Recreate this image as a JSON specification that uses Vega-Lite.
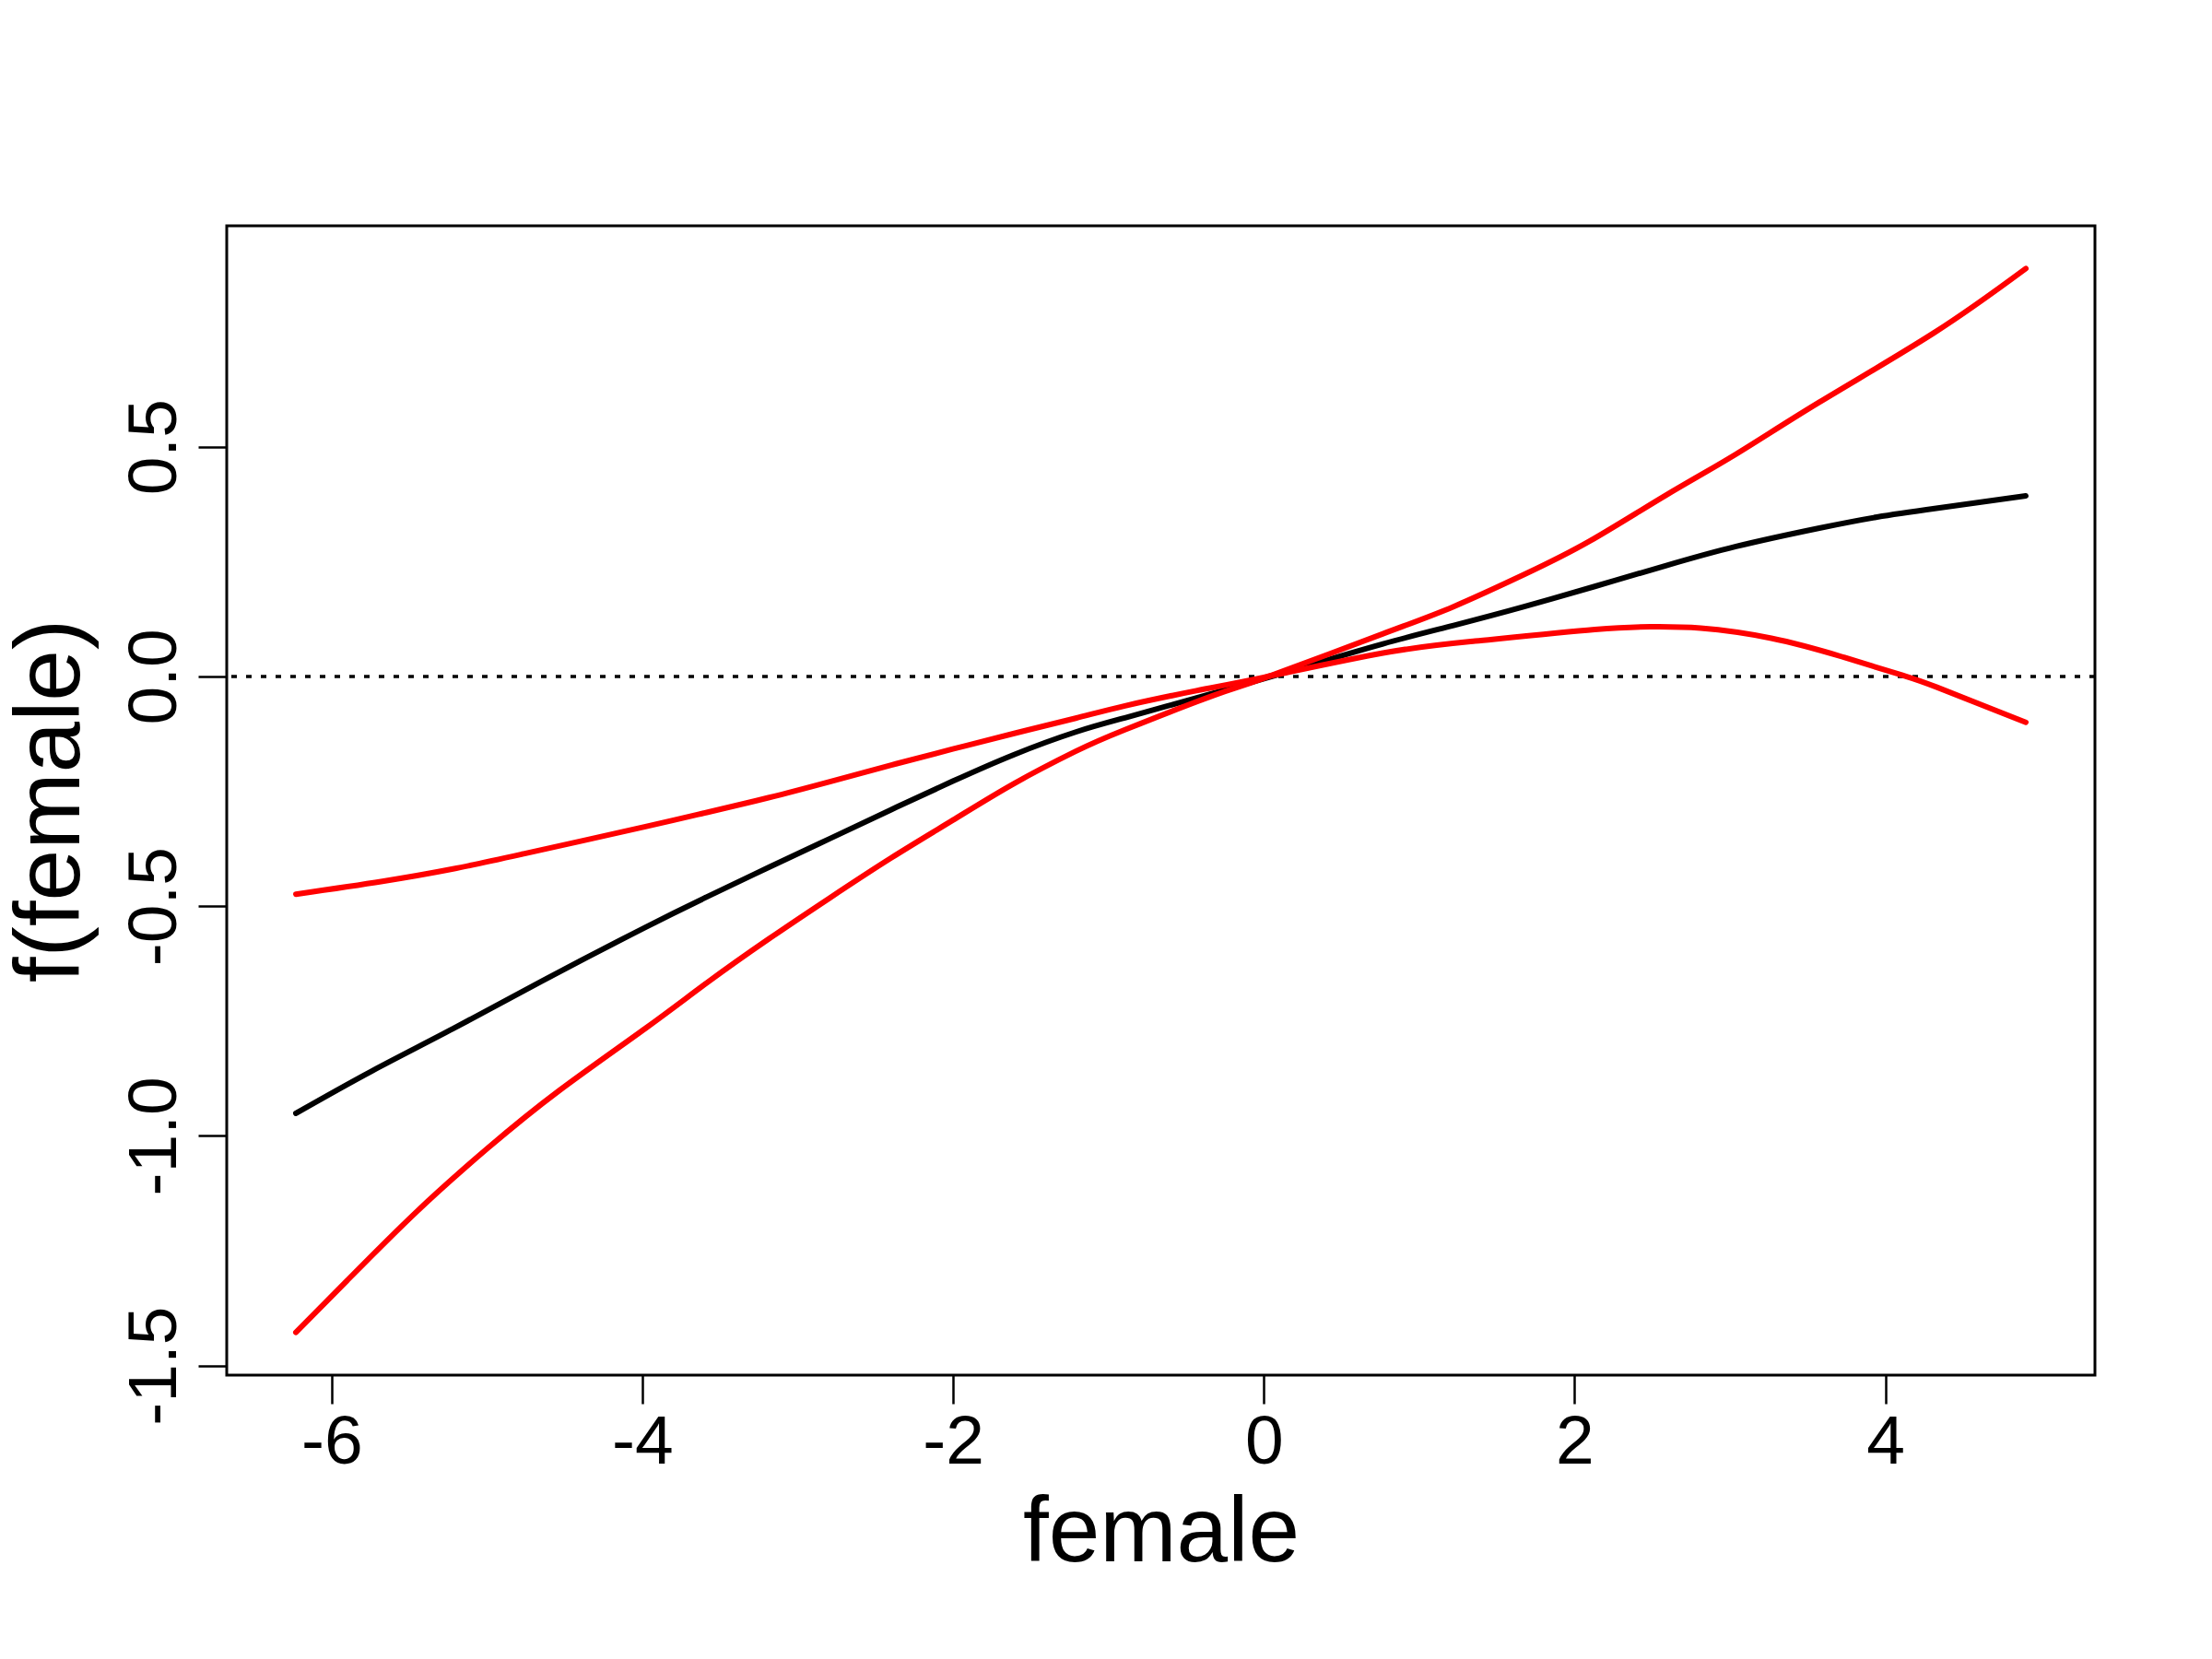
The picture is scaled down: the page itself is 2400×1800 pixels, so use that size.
{
  "$schema": "https://vega.github.io/schema/vega-lite/v6.json",
  "width": 2027,
  "height": 1247,
  "autosize": {"type": "none"},
  "padding": {"left": 246, "top": 245, "right": 127, "bottom": 308},
  "background": "white",
  "config": {
    "view": {"stroke": "black", "strokeWidth": 3},
    "font": "Liberation Sans",
    "axis": {
      "grid": false,
      "domain": false,
      "tickColor": "black",
      "tickWidth": 2.5,
      "tickSize": 31,
      "labelColor": "black",
      "labelFont": "Liberation Sans",
      "labelFontSize": 75,
      "titleFont": "Liberation Sans",
      "titleFontSize": 100,
      "titleFontWeight": "normal",
      "titleColor": "black"
    }
  },
  "datasets": {
    "curves": [
      {"x": -6.23, "y": -0.951, "series": "fit"},
      {"x": -5.741, "y": -0.859, "series": "fit"},
      {"x": -5.219, "y": -0.767, "series": "fit"},
      {"x": -4.651, "y": -0.664, "series": "fit"},
      {"x": -3.98, "y": -0.546, "series": "fit"},
      {"x": -3.585, "y": -0.48, "series": "fit"},
      {"x": -3.189, "y": -0.416, "series": "fit"},
      {"x": -2.793, "y": -0.353, "series": "fit"},
      {"x": -2.398, "y": -0.29, "series": "fit"},
      {"x": -2.002, "y": -0.228, "series": "fit"},
      {"x": -1.607, "y": -0.17, "series": "fit"},
      {"x": -1.211, "y": -0.121, "series": "fit"},
      {"x": -0.894, "y": -0.09, "series": "fit"},
      {"x": -0.5, "y": -0.053, "series": "fit"},
      {"x": 0.0, "y": -0.005, "series": "fit"},
      {"x": 0.3, "y": 0.025, "series": "fit"},
      {"x": 0.767, "y": 0.071, "series": "fit"},
      {"x": 1.221, "y": 0.111, "series": "fit"},
      {"x": 1.676, "y": 0.152, "series": "fit"},
      {"x": 2.13, "y": 0.196, "series": "fit"},
      {"x": 2.585, "y": 0.241, "series": "fit"},
      {"x": 3.039, "y": 0.283, "series": "fit"},
      {"x": 3.575, "y": 0.323, "series": "fit"},
      {"x": 3.947, "y": 0.347, "series": "fit"},
      {"x": 4.328, "y": 0.366, "series": "fit"},
      {"x": 4.904, "y": 0.393, "series": "fit"},

      {"x": -6.23, "y": -0.474, "series": "bandA"},
      {"x": -5.673, "y": -0.446, "series": "bandA"},
      {"x": -5.219, "y": -0.419, "series": "bandA"},
      {"x": -4.764, "y": -0.386, "series": "bandA"},
      {"x": -3.98, "y": -0.327, "series": "bandA"},
      {"x": -3.585, "y": -0.296, "series": "bandA"},
      {"x": -3.189, "y": -0.264, "series": "bandA"},
      {"x": -2.793, "y": -0.229, "series": "bandA"},
      {"x": -2.398, "y": -0.193, "series": "bandA"},
      {"x": -2.002, "y": -0.158, "series": "bandA"},
      {"x": -1.607, "y": -0.124, "series": "bandA"},
      {"x": -1.211, "y": -0.091, "series": "bandA"},
      {"x": -0.894, "y": -0.064, "series": "bandA"},
      {"x": -0.434, "y": -0.031, "series": "bandA"},
      {"x": 0.0, "y": -0.002, "series": "bandA"},
      {"x": 0.767, "y": 0.051, "series": "bandA"},
      {"x": 1.36, "y": 0.077, "series": "bandA"},
      {"x": 2.13, "y": 0.102, "series": "bandA"},
      {"x": 2.493, "y": 0.108, "series": "bandA"},
      {"x": 2.811, "y": 0.105, "series": "bandA"},
      {"x": 3.266, "y": 0.083, "series": "bandA"},
      {"x": 3.72, "y": 0.043, "series": "bandA"},
      {"x": 4.106, "y": 0.003, "series": "bandA"},
      {"x": 4.328, "y": -0.023, "series": "bandA"},
      {"x": 4.904, "y": -0.1, "series": "bandA"},

      {"x": -6.23, "y": -1.428, "series": "bandB"},
      {"x": -5.9, "y": -1.315, "series": "bandB"},
      {"x": -5.446, "y": -1.163, "series": "bandB"},
      {"x": -4.992, "y": -1.026, "series": "bandB"},
      {"x": -4.537, "y": -0.902, "series": "bandB"},
      {"x": -3.98, "y": -0.766, "series": "bandB"},
      {"x": -3.585, "y": -0.667, "series": "bandB"},
      {"x": -3.189, "y": -0.572, "series": "bandB"},
      {"x": -2.793, "y": -0.482, "series": "bandB"},
      {"x": -2.398, "y": -0.395, "series": "bandB"},
      {"x": -2.002, "y": -0.313, "series": "bandB"},
      {"x": -1.607, "y": -0.233, "series": "bandB"},
      {"x": -1.211, "y": -0.163, "series": "bandB"},
      {"x": -0.894, "y": -0.116, "series": "bandB"},
      {"x": -0.321, "y": -0.041, "series": "bandB"},
      {"x": 0.0, "y": -0.004, "series": "bandB"},
      {"x": 0.767, "y": 0.093, "series": "bandB"},
      {"x": 1.221, "y": 0.152, "series": "bandB"},
      {"x": 1.676, "y": 0.222, "series": "bandB"},
      {"x": 2.099, "y": 0.295, "series": "bandB"},
      {"x": 2.585, "y": 0.394, "series": "bandB"},
      {"x": 3.039, "y": 0.484, "series": "bandB"},
      {"x": 3.575, "y": 0.597, "series": "bandB"},
      {"x": 4.313, "y": 0.748, "series": "bandB"},
      {"x": 4.904, "y": 0.888, "series": "bandB"}
    ],
    "zero": [{"y": 0}]
  },
  "layer": [
    {
      "data": {"name": "zero"},
      "mark": {"type": "rule", "color": "black", "strokeWidth": 3.5, "strokeDash": [6, 10]},
      "encoding": {
        "y": {"field": "y", "type": "quantitative", "scale": {"domain": [-1.521, 0.981], "nice": false, "zero": false}}
      }
    },
    {
      "data": {"name": "curves"},
      "mark": {"type": "line", "strokeWidth": 6, "interpolate": "natural", "strokeCap": "round"},
      "encoding": {
        "x": {
          "field": "x", "type": "quantitative", "title": "female",
          "scale": {"domain": [-6.675, 5.349], "nice": false, "zero": false},
          "axis": {
            "values": [-6, -4, -2, 0, 2, 4],
            "labelExpr": "toString(datum.value)",
            "labelBaseline": "alphabetic",
            "labelPadding": 64,
            "labelFlush": false,
            "labelOverlap": false,
            "titleBaseline": "alphabetic",
            "titleAnchor": "middle",
            "titleX": 1013.5,
            "titleY": 201
          }
        },
        "y": {
          "field": "y", "type": "quantitative", "title": "f(female)",
          "scale": {"domain": [-1.521, 0.981], "nice": false, "zero": false},
          "axis": {
            "values": [-1.5, -1, -0.5, 0, 0.5],
            "labelExpr": "replace(format(datum.value, '.1f'), '\u2212', '-')",
            "labelAngle": 270,
            "labelAlign": "center",
            "labelBaseline": "alphabetic",
            "labelPadding": 25,
            "labelFlush": false,
            "labelOverlap": false,
            "titleAngle": 270,
            "titleAlign": "center",
            "titleBaseline": "alphabetic",
            "titleX": -161,
            "titleY": 623.5
          }
        },
        "color": {
          "field": "series", "type": "nominal", "legend": null,
          "scale": {"domain": ["fit", "bandA", "bandB"], "range": ["#000000", "#FF0000", "#FF0000"]}
        }
      }
    }
  ]
}
